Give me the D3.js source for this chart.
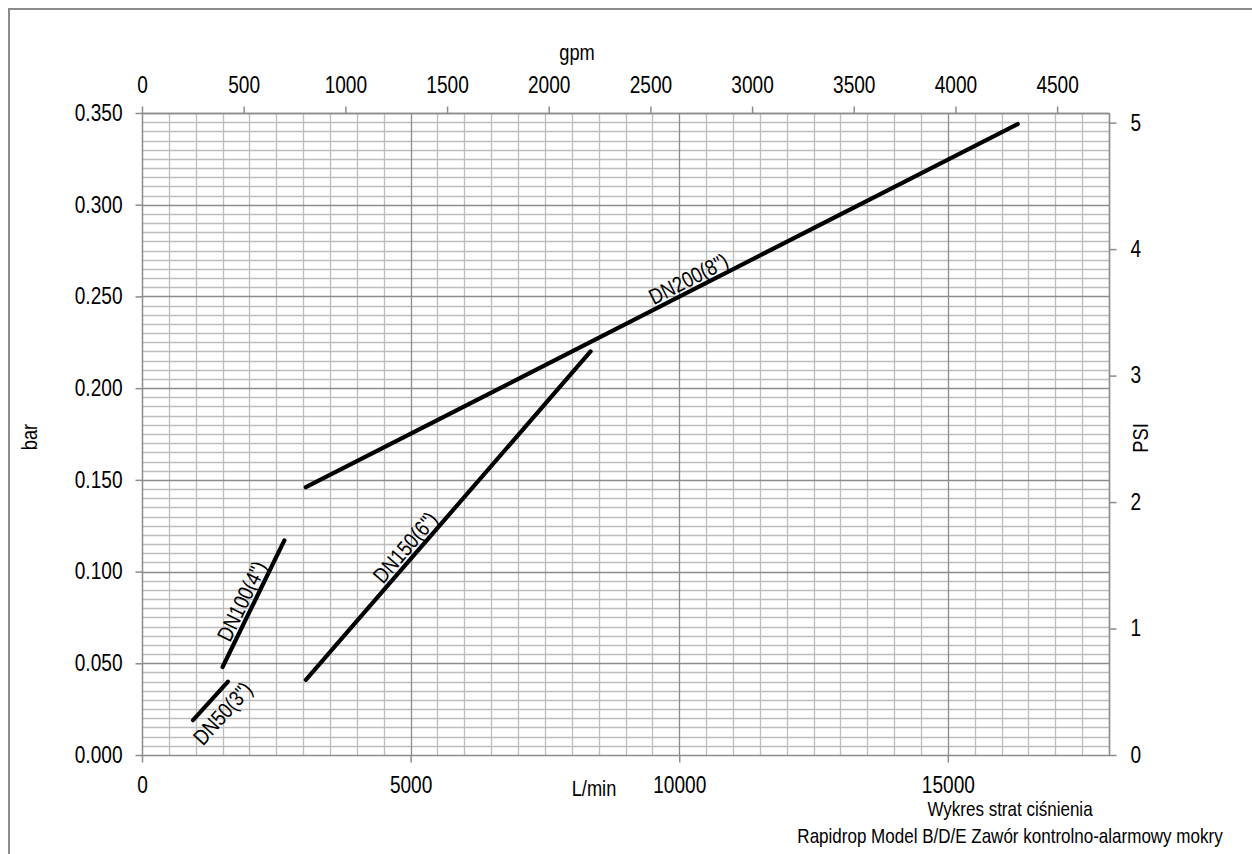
<!DOCTYPE html>
<html>
<head>
<meta charset="utf-8">
<script src="https://cdn.jsdelivr.net/npm/d3@7"></script>
<style>
  html, body { margin: 0; padding: 0; background: #fff; }
  svg text { font-family: "Liberation Sans", Arial, sans-serif; fill: #000; }
</style>
</head>
<body>
<svg id="chart" width="1252" height="854"></svg>
<script>
// ---- data ----
const seriesNames = ['DN50(3")', 'DN100(4")', 'DN150(6")', 'DN200(8")'];
const dn50Flow = [950, 1600];
const dn50Loss = [0.019, 0.040];
const dn100Flow = [1500, 2650];
const dn100Loss = [0.048, 0.117];
const dn150Flow = [3050, 8350];
const dn150Loss = [0.041, 0.220];
const dn200Flow = [3050, 16300];
const dn200Loss = [0.146, 0.344];

const lminTicks = [0, 5000, 10000, 15000];
const barTicks = [0, 0.05, 0.10, 0.15, 0.20, 0.25, 0.30, 0.35];
const gpmTicks = [0, 500, 1000, 1500, 2000, 2500, 3000, 3500, 4000, 4500];
const psiTicks = [0, 1, 2, 3, 4, 5];

const xMax = 18000, yMax = 0.35;
const LMIN_PER_GPM = 3.78541, BAR_PER_PSI = 0.0689476;
const titleLines = ["Wykres strat ciśnienia", "Rapidrop Model B/D/E Zawór kontrolno-alarmowy mokry"];

// label placement: fraction along line, perpendicular offset
const labelPos = [{t: 0.48, dy: 25}, {t: 0.48, dy: -4}, {t: 0.38, dy: -4}, {t: 0.545, dy: -4}];

// ---- layout ----
const svg = d3.select("#chart");
const L = 142, R = 1109, T = 113, B = 755;
const FS = 22, TFS = 23, SX = 0.83; // narrow look
const x = d3.scaleLinear().domain([0, xMax]).range([L, R]);
const y = d3.scaleLinear().domain([0, yMax]).range([B, T]);
const xg = d3.scaleLinear().domain([0, xMax / LMIN_PER_GPM]).range([L, R]);
const yp = d3.scaleLinear().domain([0, yMax / BAR_PER_PSI]).range([B, T]);

// outer frame
svg.append("rect").attr("x", 9).attr("y", 9).attr("width", 1300).attr("height", 900)
  .attr("fill", "none").attr("stroke", "#8c8c8c").attr("stroke-width", 2);

// grid
const minorX = d3.range(0, xMax + 1, 500);
const minorY = d3.range(0, 71).map(i => i * 0.005);
const g = svg.append("g");
g.selectAll(".vx").data(minorX.filter(v => v % 5000 !== 0)).join("line")
  .attr("x1", d => Math.round(x(d)) + 0.5).attr("x2", d => Math.round(x(d)) + 0.5)
  .attr("y1", T).attr("y2", B).attr("stroke", "#bdbdbd").attr("stroke-width", 1.3);
g.selectAll(".hy").data(minorY.filter((v, i) => i % 10 !== 0)).join("line")
  .attr("y1", d => Math.round(y(d)) + 0.5).attr("y2", d => Math.round(y(d)) + 0.5)
  .attr("x1", L).attr("x2", R).attr("stroke", "#bdbdbd").attr("stroke-width", 1.3);
g.selectAll(".vX").data(minorX.filter(v => v % 5000 === 0 && v > 0)).join("line")
  .attr("x1", d => Math.round(x(d)) + 0.5).attr("x2", d => Math.round(x(d)) + 0.5)
  .attr("y1", T).attr("y2", B).attr("stroke", "#8c8c8c").attr("stroke-width", 1.3);
g.selectAll(".hY").data(barTicks.filter(v => v > 0)).join("line")
  .attr("y1", d => Math.round(y(d)) + 0.5).attr("y2", d => Math.round(y(d)) + 0.5)
  .attr("x1", L).attr("x2", R).attr("stroke", "#8c8c8c").attr("stroke-width", 1.3);

// plot border
svg.append("rect").attr("x", L + 0.5).attr("y", T + 0.5).attr("width", R - L).attr("height", B - T)
  .attr("fill", "none").attr("stroke", "#8c8c8c").attr("stroke-width", 1.5);

// axes
function styleAxis(sel) {
  sel.select(".domain").remove();
  sel.selectAll(".tick line").attr("stroke", "#8c8c8c").attr("stroke-width", 1.5);
  sel.selectAll(".tick text").attr("font-size", TFS).attr("fill", "#000")
    .style("font-family", '"Liberation Sans", Arial, sans-serif')
    .each(function () {
      const t = d3.select(this);
      const xv = +t.attr("x") || 0;
      t.attr("x", xv / SX).attr("transform", `scale(${SX},1)`);
    });
}
svg.append("g").attr("transform", `translate(0,${B + 0.5})`)
  .call(d3.axisBottom(x).tickValues(lminTicks).tickSize(7).tickPadding(14).tickFormat(d3.format("d")))
  .call(styleAxis);
svg.append("g").attr("transform", `translate(0,${T + 0.5})`)
  .call(d3.axisTop(xg).tickValues(gpmTicks).tickSize(7).tickPadding(14).tickFormat(d3.format("d")))
  .call(styleAxis);
svg.append("g").attr("transform", `translate(${L + 0.5},0)`)
  .call(d3.axisLeft(y).tickValues(barTicks).tickSize(7).tickPadding(13).tickFormat(d3.format(".3f")))
  .call(styleAxis);
svg.append("g").attr("transform", `translate(${R + 0.5},0)`)
  .call(d3.axisRight(yp).tickValues(psiTicks).tickSize(7).tickPadding(14).tickFormat(d3.format("d")))
  .call(styleAxis);

// text helper (narrowed)
function label(tx, ty, rot, str, anchor, dy, size) {
  return svg.append("text")
    .attr("transform", `translate(${tx},${ty}) rotate(${rot || 0}) scale(${SX},1)`)
    .attr("text-anchor", anchor || "middle").attr("font-size", size || FS)
    .attr("dy", dy || 0).text(str);
}

// axis titles
label(577, 60, 0, "gpm");
label(594, 796, 0, "L/min");
label(37, 437, -90, "bar");
label(1148, 438, -90, "PSI");
label(1010, 816, 0, titleLines[0], "middle", 0, 20.5);
label(1010, 843, 0, titleLines[1], "middle", 0, 20.5);

// series lines
const flows = [dn50Flow, dn100Flow, dn150Flow, dn200Flow];
const losses = [dn50Loss, dn100Loss, dn150Loss, dn200Loss];
const line = d3.line().x(d => x(d[0])).y(d => y(d[1]));
seriesNames.forEach((name, i) => {
  const pts = flows[i].map((f, j) => [f, losses[i][j]]);
  svg.append("path").attr("d", line(pts)).attr("fill", "none").attr("stroke", "#000")
    .attr("stroke-width", 4.2).attr("stroke-linecap", "round");
  const x0 = x(pts[0][0]), y0 = y(pts[0][1]), x1 = x(pts[1][0]), y1 = y(pts[1][1]);
  const ang = Math.atan2(y1 - y0, x1 - x0) * 180 / Math.PI;
  const p = labelPos[i];
  const lx = x0 + (x1 - x0) * p.t, ly = y0 + (y1 - y0) * p.t;
  label(lx, ly, ang, name, "middle", p.dy);
});
</script>
</body>
</html>
